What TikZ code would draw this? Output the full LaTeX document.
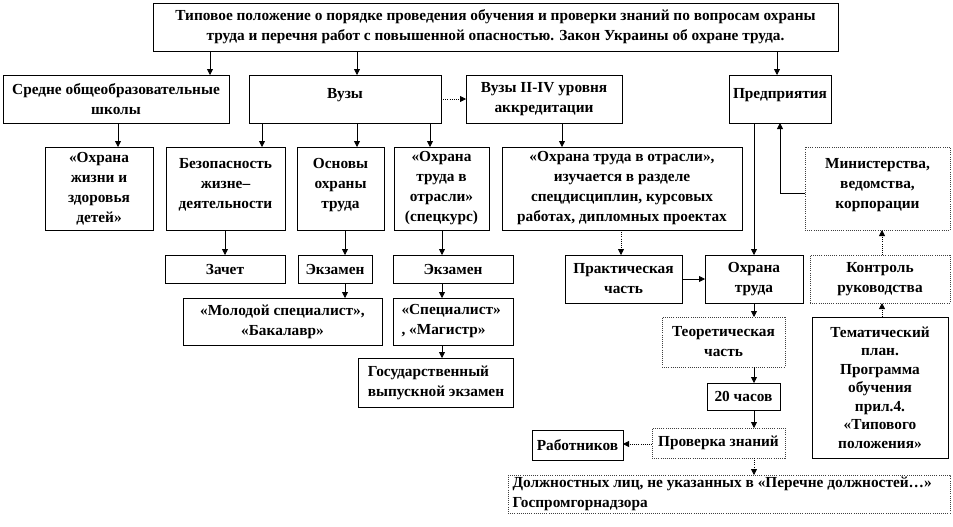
\documentclass[tikz,border=0pt]{standalone}
\usepackage{fontspec}
\setmainfont{Liberation Serif}
\usetikzlibrary{arrows.meta}
\tikzset{
  box/.style={draw=black,line width=0.6pt,inner sep=0pt,outer sep=0pt,
    font=\bfseries\fontsize{11.5}{15}\selectfont,align=center,fill=white},
  dbox/.style={box,draw=black!75,densely dotted},
  lbox/.style={align=flush left,text width={#1*0.75pt}},
  arr/.style={draw=black,line width=0.6pt,-{Triangle[length=4.5pt,width=4.5pt]}},
  darr/.style={arr,densely dotted},
}
% #1 options, #2 name, #3 x1, #4 y1, #5 x2, #6 y2, #7 text
\newcommand\bx[7][]{\node[box,minimum width={(#5-#3)*0.75pt},minimum height={(#6-#4)*0.75pt},#1] (#2) at ({(#3+#5)/2},{(#4+#6)/2}) {#7};}
\newcommand\lift{\\[-11.5pt]\strut}
\newcommand\pad[1]{\hspace*{#1pt}}
\begin{document}
\begin{tikzpicture}[x=0.75pt,y=-0.75pt]
\useasboundingbox[fill=white] (0,0) rectangle (953,526);
% helper x/y coordinates
\foreach \v in {118,210,225,262,345,357,430,442,562,621,754,777,780,882}{\coordinate (x\v) at (\v,0);}
\foreach \v in {99,193,279,444}{\coordinate (y\v) at (0,\v);}
% row 1
\bx{top}{153}{3}{838}{51}{Типовое положение о порядке проведения обучения и проверки знаний по вопросам охраны\\ труда и перечня работ с повышенной опасностью. Закон Украины об охране труда.}
% row 2
\bx{sredne}{3}{75}{229}{123}{Средне общеобразовательные\\школы}
\bx{vuzy}{249}{75}{441}{123}{Вузы\lift}
\bx{vuz24}{466}{75}{622}{123}{Вузы II-IV уровня\\аккредитации}
\bx{pred}{729}{75}{831}{123}{Предприятия\lift}
% row 3
\bx{ohrzh}{45}{147}{153}{230}{«Охрана\\жизни и\\здоровья\\детей»}
\bx{bezop}{166}{147}{285}{230}{Безопасность\\жизне–\\деятельности\lift}
\bx{osnovy}{297}{147}{384}{230}{Основы\\охраны\\труда\lift}
\bx{spec}{394}{147}{489}{230}{«Охрана\\труда в\\отрасли»\\(спецкурс)}
\bx{otrasl}{502}{147}{742}{230}{«Охрана труда в отрасли»,\\изучается в разделе\\спецдисциплин, курсовых\\работах, дипломных проектах}
\bx[dbox]{minist}{805}{147}{950}{230}{Министерства,\\ведомства,\\корпорации\lift}
% row 4
\bx{zachet}{165}{255}{285}{283}{Зачет}
\bx{ekz1}{298}{255}{372}{283}{Экзамен}
\bx{ekz2}{393}{255}{513}{283}{Экзамен}
\bx{prakt}{565}{255}{682}{303}{Практическая\\часть}
\bx{ohrtr}{705}{255}{803}{303}{Охрана\\труда}
\bx[dbox]{kontrol}{810}{255}{950}{303}{Контроль\\руководства}
% row 5
\bx{molod}{183}{298}{382}{345}{«Молодой специалист»,\\«Бакалавр»}
\bx[lbox=119]{spec2}{393}{298}{513}{345}{\pad{6}«Специалист»\\\pad{6}, «Магистр»}
\bx[dbox]{teor}{662}{317}{785}{367}{Теоретическая\\часть}
\bx[font=\bfseries\fontsize{11.5}{13.9}\selectfont]{temat}{812}{317}{948}{458}{Тематический\\план.\\Программа\\обучения\\прил.4.\\«Типового\\положения»}
% row 6
\bx[lbox=154]{gos}{358}{358}{513}{407}{\pad{7}Государственный\\\pad{7}выпускной экзамен}
\bx{h20}{707}{383}{780}{410}{20 часов}
\bx[dbox]{prov}{652}{428}{785}{458}{Проверка знаний}
\bx{rab}{532}{430}{623}{460}{Работников}
\bx[dbox,lbox=441]{dolzh}{508}{475}{950}{513}{\pad{3}Должностных лиц, не указанных в «Перечне должностей…»\\\pad{3}Госпромгорнадзора}
% connectors
\draw[arr] (top.south -| x210) -- (sredne.north -| x210);
\draw[arr] (top.south -| x357) -- (vuzy.north -| x357);
\draw[arr] (top.south -| x777) -- (pred.north -| x777);
\draw[darr] (vuzy.east |- y99) -- (vuz24.west |- y99);
\draw[arr] (sredne.south -| x118) -- (ohrzh.north -| x118);
\draw[arr] (vuzy.south -| x262) -- (bezop.north -| x262);
\draw[arr] (vuzy.south -| x357) -- (osnovy.north -| x357);
\draw[arr] (vuzy.south -| x430) -- (spec.north -| x430);
\draw[arr] (vuz24.south -| x562) -- (otrasl.north -| x562);
\draw[arr] (minist.west |- y193) -- (x780 |- y193) -- (pred.south -| x780);
\draw[arr] (pred.south -| x754) -- (ohrtr.north -| x754);
\draw[arr] (bezop.south -| x225) -- (zachet.north -| x225);
\draw[arr] (osnovy.south -| x345) -- (ekz1.north -| x345);
\draw[arr] (spec.south -| x442) -- (ekz2.north -| x442);
\draw[arr] (ekz1.south -| x345) -- (molod.north -| x345);
\draw[arr] (ekz2.south -| x442) -- (spec2.north -| x442);
\draw[arr] (spec2.south -| x442) -- (gos.north -| x442);
\draw[darr] (otrasl.south -| x621) -- (prakt.north -| x621);
\draw[arr] (prakt.east |- y279) -- (ohrtr.west |- y279);
\draw[darr] (kontrol.north -| x882) -- (minist.south -| x882);
\draw[arr] (ohrtr.south -| x754) -- (teor.north -| x754);
\draw[darr] (temat.north -| x882) -- (kontrol.south -| x882);
\draw[arr] (teor.south -| x754) -- (h20.north -| x754);
\draw[arr] (h20.south -| x754) -- (prov.north -| x754);
\draw[darr] (prov.west |- y444) -- (rab.east |- y444);
\draw[darr] (prov.south -| x754) -- (dolzh.north -| x754);
\end{tikzpicture}
\end{document}
